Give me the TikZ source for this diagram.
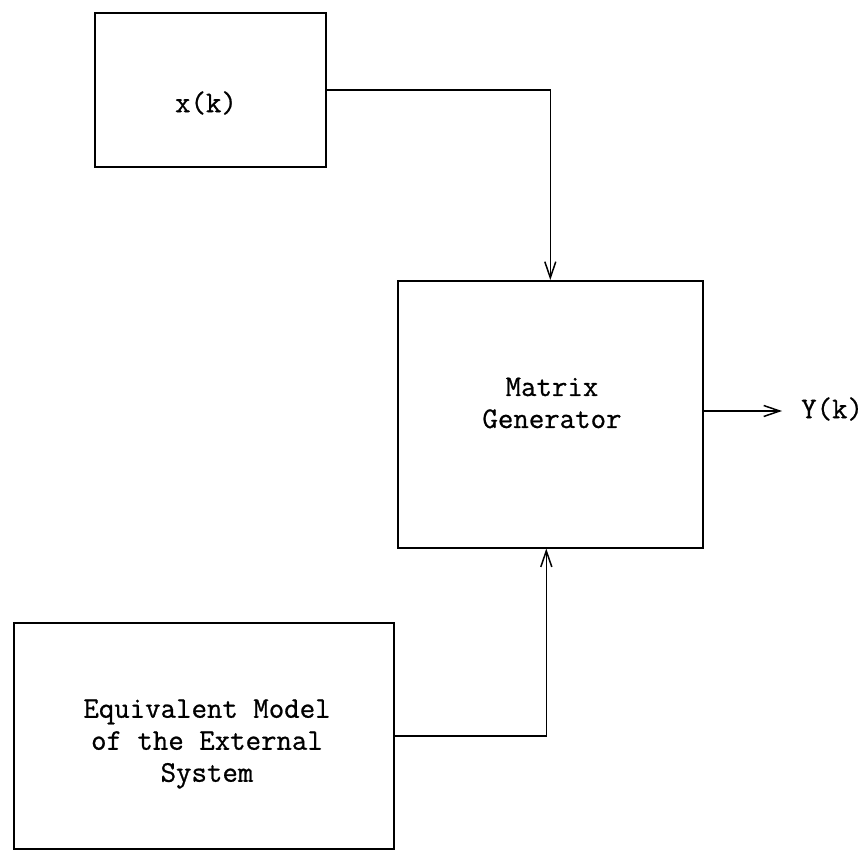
\documentclass[tikz,border=0pt]{standalone}
\usepackage{fontspec}
\newfontfamily\typewriter[FakeBold=0.8]{Latin Modern Mono}
\usetikzlibrary{arrows.meta}
\begin{document}
\begin{tikzpicture}[x=1pt,y=-1pt,
  block/.style={draw, line width=1.6pt, rectangle, inner sep=0pt, anchor=north west},
  lbl/.style={font=\typewriter\fontsize{30}{32}\selectfont, align=center, inner sep=0pt},
  flow/.style={line width=1.5pt, -{Straight Barb[length=16pt,width=11pt,line width=1.5pt]}}]
  \useasboundingbox (0,0) rectangle (868,851);
  % blocks
  \node[block, minimum width=231pt, minimum height=154pt] (xk) at (94,12) {};
  \node[block, minimum width=305pt, minimum height=267pt] (mg) at (397,280) {};
  \node[block, minimum width=380pt, minimum height=226pt] (eq) at (13,622) {};
  % block texts
  \node[lbl] (xkt) at (206,103) {x(k)};
  \node[lbl] (mgt) at (552,403) {Matrix\\Generator};
  \node[lbl] (eqt) at (207,744) {Equivalent Model\\of the External\\System};
  % output
  \coordinate (yend) at (782,411);
  \node[lbl, anchor=west] (yk) at (801,409) {Y(k)};
  % connections
  \draw[flow] (xk.east) -| (mg.north);
  \draw[flow] (eq.east) -| ([xshift=-4pt]mg.south);
  \draw[flow] (mg.east |- yend) -- (yend);
\end{tikzpicture}
\end{document}
